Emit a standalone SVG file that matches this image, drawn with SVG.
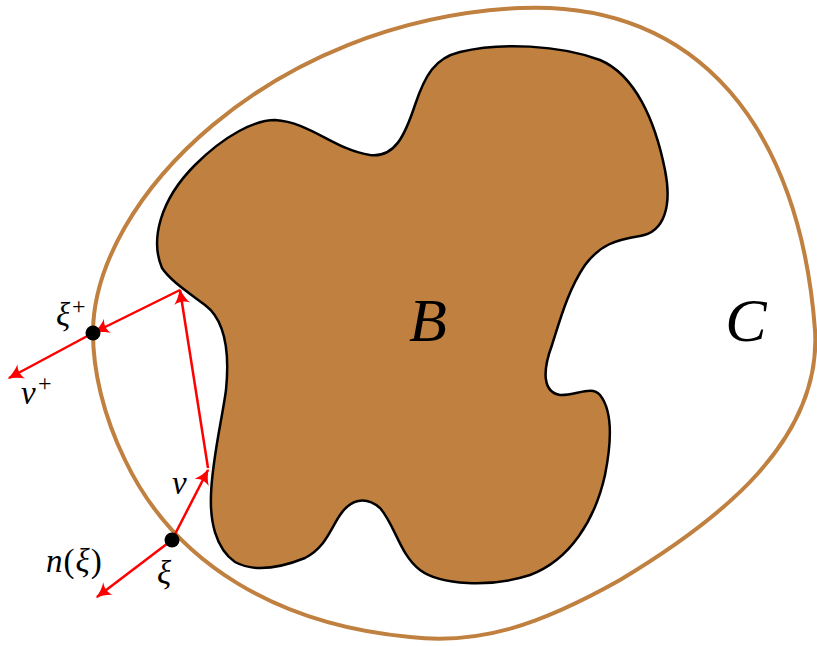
<svg xmlns="http://www.w3.org/2000/svg" width="817" height="646" viewBox="0 0 817 646">
<style>
.lbl{font-family:"Liberation Serif","DejaVu Serif",serif;font-style:italic;fill:#000}
.up{font-style:normal}
.arr{stroke:#ff0000;stroke-width:2.5;fill:none;marker-end:url(#ah)}
</style>
<defs>
<marker id="ah" viewBox="-16 -9 18 18" markerWidth="18" markerHeight="18" refX="0" refY="0" orient="auto" markerUnits="userSpaceOnUse">
<path d="M1.5,0 C-4,-1.5 -10,-4.5 -14,-8 C-11,-3 -11,3 -14,8 C-10,4.5 -4,1.5 1.5,0 Z" fill="#ff0000"/>
</marker>
</defs>
<rect width="817" height="646" fill="#fff"/>
<g id="C">
<path d="M 93 333 C 93 200 270 20 520 8 C 700 0 800 130 815 330 C 822 440 720 520 620 580 C 540 625 480 645 410 637 C 280 625 175 565 125 460 C 103 415 93 370 93 333 Z" fill="none" stroke="#c08040" stroke-width="4"/>
<text class="lbl" x="746" y="341" font-size="62" text-anchor="middle">C</text>
</g>
<g id="B">
<path d="M 162 268 C 150 240 160 200 195 165 C 225 135 255 120 275 120 C 310 122 335 150 370 155 C 395 158 405 135 415 105 C 425 75 435 58 460 52 C 500 42 560 45 600 60 C 635 75 655 120 665 170 C 672 205 665 232 640 236 C 615 240 600 245 585 265 C 568 290 560 320 552 345 C 542 372 543 392 560 395 C 575 396 592 385 600 395 C 612 410 612 440 605 475 C 595 520 570 560 530 575 C 490 588 440 585 420 570 C 400 555 395 525 380 508 C 365 495 350 500 340 515 C 330 530 325 548 305 558 C 280 568 255 573 235 562 C 215 548 210 520 211 495 C 212 460 222 420 226 390 C 230 350 225 320 205 305 C 185 290 170 280 162 268 Z" fill="#c08040" stroke="#000" stroke-width="2.5"/>
<text class="lbl" x="428" y="341" font-size="62" text-anchor="middle">B</text>
</g>
<g id="connectors">
<line class="arr" x1="172" y1="540" x2="208" y2="470"/>
<line class="arr" x1="208" y1="468" x2="180" y2="290"/>
<line class="arr" x1="180" y1="290" x2="95" y2="332"/>
<line class="arr" x1="93" y1="333" x2="9" y2="378"/>
<line class="arr" x1="172" y1="540" x2="97" y2="597"/>
</g>
<g id="xi_plus">
<circle cx="93" cy="333" r="7.5" fill="#000"/>
<text class="lbl" x="56" y="326" font-size="33">ξ</text>
<text class="lbl up" x="72" y="314" font-size="24">+</text>
</g>
<g id="xi">
<circle cx="172" cy="540" r="7.5" fill="#000"/>
<text class="lbl" x="157" y="584" font-size="33">ξ</text>
</g>
<text class="lbl" x="21" y="404" font-size="33">v</text>
<text class="lbl up" x="38" y="391" font-size="24">+</text>
<text class="lbl" x="172" y="494" font-size="33">v</text>
<text class="lbl" x="46" y="572" font-size="33" letter-spacing="1">n<tspan class="up">(</tspan>ξ<tspan class="up">)</tspan></text>
</svg>
